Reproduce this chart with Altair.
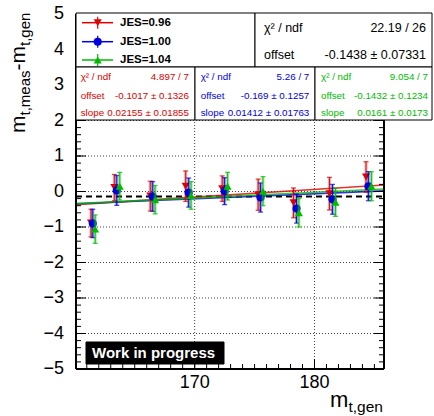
import altair as alt
import pandas as pd
import numpy as np

# ---------------- data ----------------
series_names = ["JES=0.96", "JES=1.00", "JES=1.04"]
series_colors = ["#dd0000", "#0000dd", "#00bb00"]
series_shapes = ["triangle-down", "circle", "triangle-up"]

x_red = [161.35, 163.3, 166.3, 169.25, 172.3, 175.3, 178.25, 181.25, 184.3]
y_red = [-0.89, 0.11, -0.13, 0.15, 0.08, -0.09, -0.32, -0.06, 0.41]
e_red = [0.39, 0.37, 0.42, 0.43, 0.36, 0.44, 0.42, 0.46, 0.43]

x_blue = [161.5, 163.5, 166.5, 169.5, 172.5, 175.5, 178.5, 181.5, 184.5]
y_blue = [-0.90, 0.03, -0.14, -0.03, 0.01, -0.17, -0.48, -0.22, 0.15]
e_blue = [0.40, 0.42, 0.42, 0.41, 0.38, 0.41, 0.41, 0.42, 0.41]

x_green = [161.7, 163.75, 166.7, 169.7, 172.75, 175.7, 178.7, 181.75, 184.75]
y_green = [-1.06, 0.15, -0.23, -0.11, 0.15, 0.01, -0.60, -0.30, 0.15]
e_green = [0.40, 0.39, 0.40, 0.39, 0.39, 0.41, 0.40, 0.40, 0.41]

fit_offsets = [-0.1017, -0.169, -0.1432]
fit_slopes = [0.02155, 0.01412, 0.0161]
fit_center = 172.5
overall_offset = -0.1438

stat_chi = ["4.897 / 7", "5.26 / 7", "9.054 / 7"]
stat_off = ["-0.1017 ± 0.1326", "-0.169 ± 0.1257", "-0.1432 ± 0.1234"]
stat_slope = ["0.02155 ± 0.01855", "0.01412 ± 0.01763", "0.0161 ± 0.0173"]
overall_chi = "22.19 / 26"
overall_off = "-0.1438 ± 0.07331"

y_ticks = [-5, -4, -3, -2, -1, 0, 1, 2, 3, 4, 5]
x_ticks = [170, 180]
x_dom = [160.1, 185.8]
y_dom = [-5, 5]

FONT = "Liberation Sans"
L, T, W, H = 76, 14, 308, 355

xs = alt.Scale(domain=x_dom, nice=False, zero=False)
ys = alt.Scale(domain=y_dom, nice=False, zero=False)
one = pd.DataFrame({"d": [0]})

layers = []

# grid
grid_y = pd.DataFrame({"v": [-4, -3, -2, -1, 0, 1, 2, 3, 4]})
grid_x = pd.DataFrame({"v": x_ticks})
layers.append(alt.Chart(grid_y).mark_rule(color="#444", strokeWidth=1, strokeDash=[1, 2]).encode(
    y=alt.Y("v:Q", scale=ys), x=alt.value(0), x2=alt.value(W)))
layers.append(alt.Chart(grid_x).mark_rule(color="#444", strokeWidth=1, strokeDash=[1, 2]).encode(
    x=alt.X("v:Q", scale=xs), y=alt.value(0), y2=alt.value(H)))

# overall dashed line
layers.append(alt.Chart(pd.DataFrame({"v": [overall_offset]})).mark_rule(
    color="black", strokeWidth=2, strokeDash=[6, 4]).encode(
    y=alt.Y("v:Q", scale=ys), x=alt.value(0), x2=alt.value(W)))

# fit lines
fit_rows = []
for name, o, s in zip(series_names, fit_offsets, fit_slopes):
    for xv in x_dom:
        fit_rows.append({"s": name, "x": xv, "y": o + s * (xv - fit_center)})
fit_df = pd.DataFrame(fit_rows)
for name, col in zip(series_names, series_colors):
    layers.append(alt.Chart(fit_df[fit_df.s == name]).mark_line(color=col, strokeWidth=1.6, opacity=0.8).encode(
        x=alt.X("x:Q", scale=xs), y=alt.Y("y:Q", scale=ys)))

# points with error bars
all_series = [(x_red, y_red, e_red), (x_blue, y_blue, e_blue), (x_green, y_green, e_green)]
for (xv, yv, ev), col, shp in zip(all_series, series_colors, series_shapes):
    df = pd.DataFrame({"x": xv, "y": yv, "e": ev})
    df["lo"] = df.y - df.e
    df["hi"] = df.y + df.e
    base = alt.Chart(df)
    layers.append(base.mark_rule(color=col, strokeWidth=3, opacity=0.35).encode(
        x=alt.X("x:Q", scale=xs), y=alt.Y("lo:Q", scale=ys), y2="hi:Q"))
    layers.append(base.mark_rule(color=col, strokeWidth=1, opacity=0.9).encode(
        x=alt.X("x:Q", scale=xs), y=alt.Y("lo:Q", scale=ys), y2="hi:Q"))
    for c in ["lo", "hi"]:
        layers.append(base.mark_tick(color=col, orient="horizontal", size=5, thickness=1.3).encode(
            x=alt.X("x:Q", scale=xs), y=alt.Y(c + ":Q", scale=ys)))
    layers.append(base.mark_point(shape=shp, filled=True, size=65, color=col, opacity=1).encode(
        x=alt.X("x:Q", scale=xs), y=alt.Y("y:Q", scale=ys)))

# inner ticks
minor_y = pd.DataFrame({"v": np.round(np.arange(-5, 5.01, 0.2), 2)})
major_y = pd.DataFrame({"v": y_ticks})
minor_x = pd.DataFrame({"v": list(range(161, 186))})
major_x = pd.DataFrame({"v": x_ticks})
for dfv, ln in [(minor_y, 5), (major_y, 10)]:
    layers.append(alt.Chart(dfv).mark_rule(color="black", strokeWidth=1).encode(
        y=alt.Y("v:Q", scale=ys), x=alt.value(0), x2=alt.value(ln)))
    layers.append(alt.Chart(dfv).mark_rule(color="black", strokeWidth=1).encode(
        y=alt.Y("v:Q", scale=ys), x=alt.value(W - ln), x2=alt.value(W)))
for dfv, ln in [(minor_x, 5), (major_x, 10)]:
    layers.append(alt.Chart(dfv).mark_rule(color="black", strokeWidth=1).encode(
        x=alt.X("v:Q", scale=xs), y=alt.value(H - ln), y2=alt.value(H)))

# tick labels (through the scales)
layers.append(alt.Chart(major_y).mark_text(font=FONT, fontSize=18, align="right", baseline="middle",
                                           color="black").encode(
    y=alt.Y("v:Q", scale=ys), x=alt.value(-12), text=alt.Text("v:Q", format="d")))
layers.append(alt.Chart(major_x).mark_text(font=FONT, fontSize=18, align="center", baseline="middle",
                                           color="black").encode(
    x=alt.X("v:Q", scale=xs), y=alt.value(H + 14), text=alt.Text("v:Q", format="d")))

# frame
def rule(x1, y1, x2, y2, w=2, col="black"):
    return alt.Chart(one).mark_rule(color=col, strokeWidth=w).encode(
        x=alt.value(x1 - L), x2=alt.value(x2 - L), y=alt.value(y1 - T), y2=alt.value(y2 - T))

layers.append(rule(L, T, L, T + H))
layers.append(rule(L + W, T, L + W, T + H))
layers.append(rule(L, T + H, L + W, T + H))

# boxes
def box(x1, y1, x2, y2, fill="white", stroke="black"):
    return alt.Chart(one).mark_rect(fill=fill, stroke=stroke, strokeWidth=1).encode(
        x=alt.value(x1 - L), x2=alt.value(x2 - L), y=alt.value(y1 - T), y2=alt.value(y2 - T))

layers.append(box(76, 13, 255, 67))
layers.append(box(255, 13, 432, 67))
layers.append(box(76, 67, 195, 120))
layers.append(box(195, 67, 315, 120))
layers.append(box(315, 67, 432, 120))

def txt(s, px, py, size, color="black", bold=False, align="left", baseline="middle", angle=0):
    kw = dict(text=s, fontSize=size, font=FONT, color=color, align=align, baseline=baseline,
              fontWeight="bold" if bold else "normal")
    if angle:
        kw["angle"] = angle
    return alt.Chart(one).mark_text(**kw).encode(x=alt.value(px - L), y=alt.value(py - T))

# legend
leg_y = [22.7, 41.7, 60]
for name, col, shp, yy in zip(series_names, series_colors, series_shapes, leg_y):
    layers.append(rule(82, yy, 113, yy, w=1.5, col=col))
    layers.append(rule(97.7, yy - 6, 97.7, yy + 6, w=1.2, col=col))
    layers.append(alt.Chart(one).mark_point(shape=shp, filled=True, size=65, color=col, opacity=1).encode(
        x=alt.value(97.7 - L), y=alt.value(yy - T)))
    layers.append(txt(name, 120, yy, 11.5, bold=True))

# overall stats
layers.append(txt("χ² / ndf", 264, 28, 12.5))
layers.append(txt(overall_chi, 426, 28, 12.5, align="right"))
layers.append(txt("offset", 264, 54.5, 12.5))
layers.append(txt(overall_off, 426, 54.5, 12.5, align="right"))

# per-series stats
lefts = [80.7, 200.7, 321]
rights = [189, 309.3, 428]
rows_y = [77, 96, 113]
for i, col in enumerate(series_colors):
    for lab, val, yy in zip(["χ² / ndf", "offset", "slope"], [stat_chi[i], stat_off[i], stat_slope[i]], rows_y):
        layers.append(txt(lab, lefts[i], yy, 9.8, color=col))
        layers.append(txt(val, rights[i], yy, 9.8, color=col, align="right"))

# work in progress
layers.append(box(86, 342, 224, 364, fill="black", stroke="black"))
layers.append(txt("Work in progress", 92, 353, 15, color="white", bold=True))

# axis titles
layers.append(txt("m", 330, 407, 22, baseline="alphabetic"))
layers.append(txt("t,gen", 348.5, 412, 15.5, baseline="alphabetic"))

ytitle = [("m", 21, 0), ("t,meas", 15, 5), ("-", 21, 0), ("m", 21, 0), ("t,gen", 15, 5)]
widths = {"m": 0.833, "t,meas": 3.0, "-": 0.333, "t,gen": 2.224}
ypos = 133.0
for s, fs, sh in ytitle:
    layers.append(txt(s, 25 + sh, ypos, fs, baseline="alphabetic", angle=270))
    ypos -= widths[s] * fs

chart = alt.layer(*layers).properties(
    width=W, height=H,
    padding={"left": L, "top": T, "right": 434 - L - W, "bottom": 416 - T - H},
    autosize=alt.AutoSizeParams(type="none"),
    background="white",
).configure_view(strokeWidth=0).configure_axis(disable=True)

chart.save("out.html", embed_options={"renderer": "svg", "actions": False})
